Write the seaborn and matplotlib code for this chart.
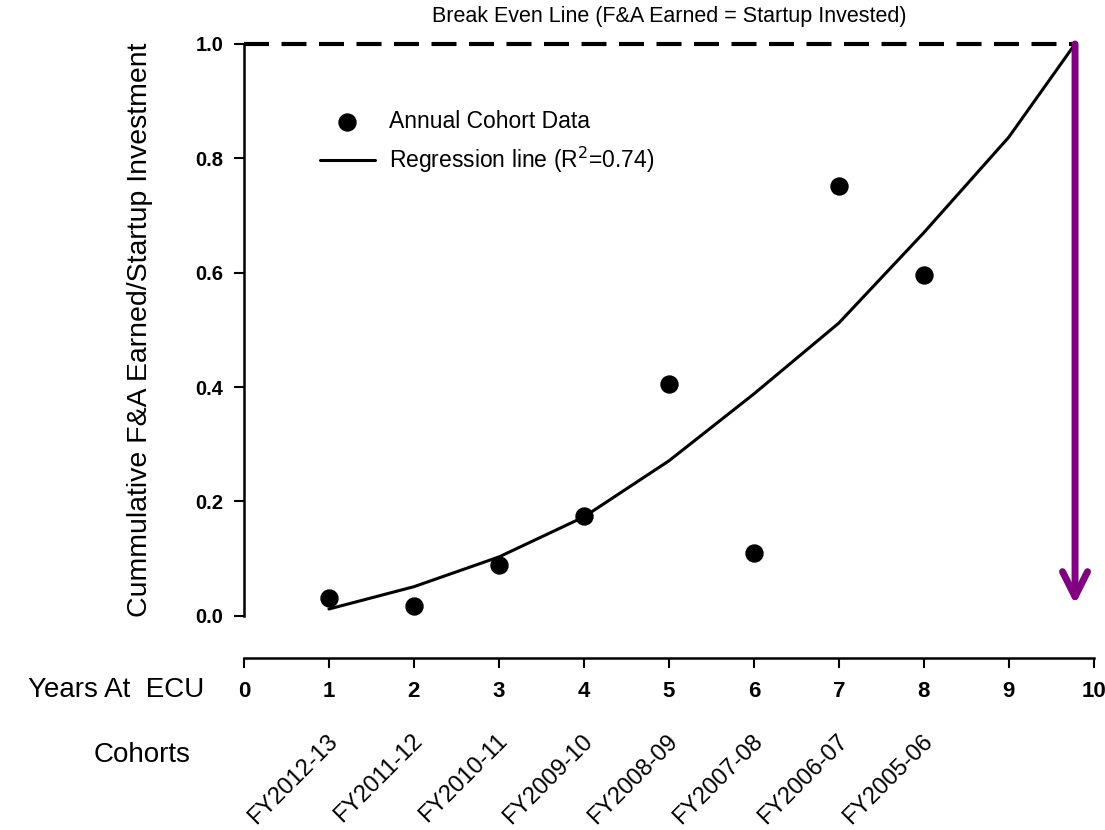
import matplotlib
matplotlib.use("Agg")
import matplotlib.pyplot as plt
import pandas as pd
import seaborn as sns

# values
years = [1, 2, 3, 4, 5, 6, 7, 8]
ratio = [0.031, 0.017, 0.089, 0.175, 0.406, 0.110, 0.752, 0.596]
cohorts = ["FY2012-13", "FY2011-12", "FY2010-11", "FY2009-10",
           "FY2008-09", "FY2007-08", "FY2006-07", "FY2005-06"]
reg_years = [1, 2, 3, 4, 5, 6, 7, 8, 9, 9.78]
reg_ratio = [0.012, 0.051, 0.103, 0.173, 0.271, 0.388, 0.512, 0.670, 0.837, 1.0]
break_even = 1.0
break_even_x = [0, 9.78]
x_ticks = list(range(0, 11))
y_ticks = [0.0, 0.2, 0.4, 0.6, 0.8, 1.0]

sns.set_theme(style="ticks")
plt.rcParams["font.family"] = ["Liberation Sans", "DejaVu Sans"]
plt.rcParams["text.color"] = "black"
plt.rcParams["axes.labelcolor"] = "black"
narrow = ["Liberation Sans Narrow", "Liberation Sans", "DejaVu Sans"]

points = pd.DataFrame({"year": years, "ratio": ratio})
reg = pd.DataFrame({"year": reg_years, "ratio": reg_ratio})

fig = plt.figure(figsize=(11.05, 8.3), dpi=100)
ax = fig.add_axes([0.2208, 0.258, 0.769, 0.689])

sns.lineplot(data=reg, x="year", y="ratio", color="black", lw=2.2,
             ax=ax, label="Regression line (R$^2$=0.74)", sort=False)
sns.scatterplot(data=points, x="year", y="ratio", color="black", s=150,
                edgecolor="black", ax=ax, label="Annual Cohort Data",
                clip_on=False, zorder=5)

# break even line + arrow
ax.plot(break_even_x, [break_even, break_even], color="black", lw=3,
        dashes=(6, 3), clip_on=False)
ax.annotate("", xy=(break_even_x[1], 0.02), xytext=(break_even_x[1], break_even),
            arrowprops=dict(arrowstyle="->", color="#800080", lw=5,
                            mutation_scale=45, shrinkA=0, shrinkB=0))
ax.text(5, 1.03, "Break Even Line (F&A Earned = Startup Invested)",
        ha="center", va="bottom", fontsize=15.5, family=narrow)

# spines first: set_position resets the ticks
for s in ["top", "right"]:
    ax.spines[s].set_visible(False)
ax.spines["bottom"].set_position(("outward", 30))
for s in ["left", "bottom"]:
    ax.spines[s].set_linewidth(1.8)
    ax.spines[s].set_color("black")

ax.set_xlim(0, 10)
ax.set_ylim(0, 1)
ax.set_xticks(x_ticks)
ax.set_yticks(y_ticks)
ax.set_yticklabels([f"{v:.1f}" for v in y_ticks], fontsize=14.5,
                   fontweight="bold")
ax.set_xticklabels([str(v) for v in x_ticks], fontsize=16, fontweight="bold",
                   family=narrow)
ax.tick_params(axis="both", direction="out", length=7, width=1.5,
               colors="black", labelcolor="black")
ax.tick_params(axis="y", pad=8)
ax.tick_params(axis="x", pad=10)

ax.set_xlabel("")
ax.set_ylabel("Cummulative F&A Earned/Startup Investment", fontsize=20.5,
              labelpad=30)

# row labels on the left
fig.text(0.185, 1 - 690 / 830, "Years At  ECU", ha="right", va="center",
         fontsize=20, family=narrow)
fig.text(0.172, 1 - 755 / 830, "Cohorts", ha="right", va="center",
         fontsize=20, family=narrow)

# cohort labels under the years
trans = ax.get_xaxis_transform()
for yr, c in zip(years, cohorts):
    ax.text(yr - 0.03, -0.2, c, transform=trans, rotation=45, ha="right",
            va="top", rotation_mode="anchor", fontsize=17, family=narrow)

# points entry first, as in the reference
handles, labels = ax.get_legend_handles_labels()
order = [labels.index("Annual Cohort Data"),
         labels.index("Regression line (R$^2$=0.74)")]
ax.legend([handles[i] for i in order], [labels[i] for i in order],
          loc="upper left", bbox_to_anchor=(0.065, 0.92), frameon=False,
          fontsize=16.5, handlelength=2.4, handletextpad=0.6,
          labelspacing=0.5)

fig.savefig("out.png", dpi=100)
